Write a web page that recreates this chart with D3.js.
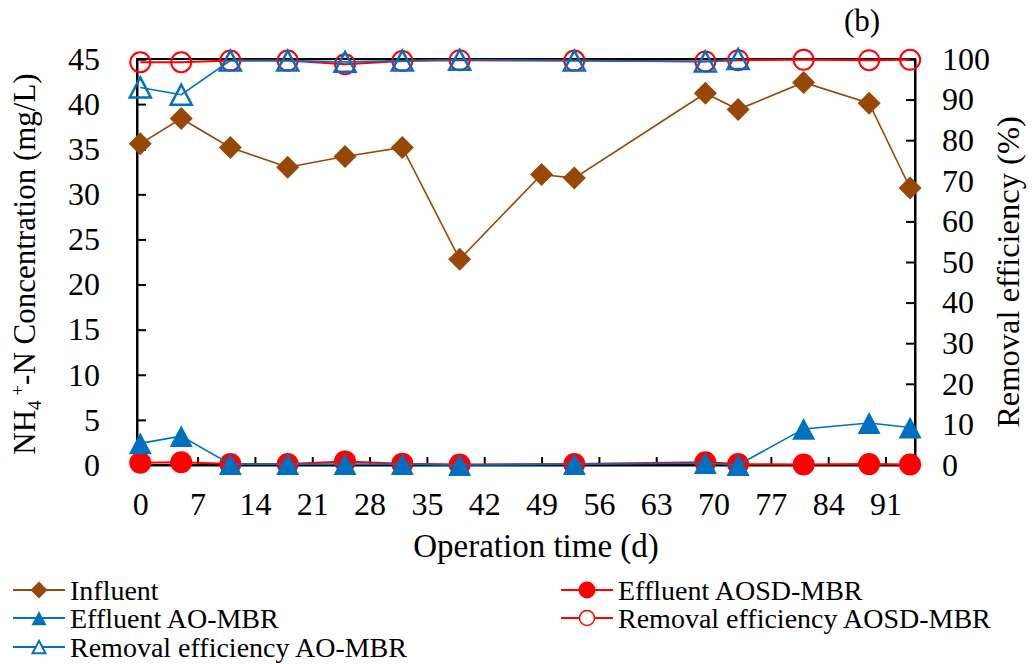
<!DOCTYPE html>
<html><head><meta charset="utf-8">
<script src="https://cdn.jsdelivr.net/npm/d3@7"></script>
<style>body{margin:0;background:#fff}svg{display:block}</style>
</head><body><svg id="c" width="1033" height="664"></svg>
<script>
const daysInfluent = [0,5,11,18,25,32,39,49,53,69,73,81,89,94];
const influent = [35.6,38.4,35.2,33.0,34.2,35.2,22.8,32.2,31.8,41.2,39.4,42.4,40.1,30.7];
const daysEffluent = [0,5,11,18,25,32,39,53,69,73,81,89,94];
const effluentAOSD = [0.25,0.3,0.1,0.1,0.4,0.15,0.05,0.1,0.3,0.1,0.05,0.1,0.05];
const effluentAO = [2.4,3.2,0.1,0.1,0.1,0.1,0.0,0.1,0.2,0.0,4.0,4.65,4.15];
const daysRemovalAOSD = [0,5,11,18,25,32,39,53,69,73,81,89,94];
const removalAOSD = [99.2,99.2,99.6,99.6,98.7,99.5,99.7,99.6,99.4,99.7,99.8,99.7,99.8];
const daysRemovalAO = [0,5,11,18,25,32,39,53,69,73];
const removalAO = [93.0,91.2,99.6,99.6,99.3,99.6,99.8,99.6,99.4,100];
const xTicks = [0,7,14,21,28,35,42,49,56,63,70,77,84,91];
const yLeftTicks = [0,5,10,15,20,25,30,35,40,45];
const yRightTicks = [0,10,20,30,40,50,60,70,80,90,100];

const FONT = "Liberation Serif";
const svg = d3.select("#c").style("font-family",FONT);
const L=137,R=915,T=59,B=465;
const x = d3.scaleLinear().domain([-0.4,94.6]).range([L,R]);
const yL = d3.scaleLinear().domain([0,45]).range([B,T]);
const yR = d3.scaleLinear().domain([0,100]).range([B,T]);

const BROWN="#974806", BLUE="#0070C0", RED="#FF0000";

svg.append("rect").attr("x",L).attr("y",T).attr("width",R-L).attr("height",B-T)
  .attr("fill","none").attr("stroke","#000").attr("stroke-width",2);

const ax = svg.append("g").attr("transform",`translate(0,${B})`)
  .call(d3.axisBottom(x).tickValues(xTicks).tickSize(-8).tickPadding(27));
const ayl = svg.append("g").attr("transform",`translate(${L},0)`)
  .call(d3.axisLeft(yL).tickValues(yLeftTicks).tickSize(-9).tickPadding(37));
const ayr = svg.append("g").attr("transform",`translate(${R},0)`)
  .call(d3.axisRight(yR).tickValues(yRightTicks).tickSize(-9).tickPadding(27));
[ax,ayl,ayr].forEach(g=>{
  g.select(".domain").attr("stroke","#000").attr("stroke-width",2);
  g.selectAll(".tick line").attr("stroke","#000").attr("stroke-width",2);
  g.selectAll(".tick text").attr("fill","#000").style("font-family",FONT).style("font-size","32px");
});
ax.selectAll(".tick text").attr("dy","0.71em");

function lineOf(xs,ys,sc){return d3.line().x((d,i)=>x(xs[i])).y((d,i)=>sc(ys[i]))(ys);}
function diamond(g,cx,cy,s,col){g.append("path").attr("d",`M${cx},${cy-s}L${cx+s},${cy}L${cx},${cy+s}L${cx-s},${cy}Z`).attr("fill",col);}
function tri(g,cx,cy,s,fill,stroke,sw){const h=s*0.95;g.append("path").attr("d",`M${cx},${cy-h}L${cx+s},${cy+h}L${cx-s},${cy+h}Z`).attr("fill",fill).attr("stroke",stroke).attr("stroke-width",sw);}
function circ(g,cx,cy,r,fill,stroke,sw){g.append("circle").attr("cx",cx).attr("cy",cy).attr("r",r).attr("fill",fill).attr("stroke",stroke).attr("stroke-width",sw);}

const gi = svg.append("g");
gi.append("path").attr("d",lineOf(daysInfluent,influent,yL)).attr("fill","none").attr("stroke",BROWN).attr("stroke-width",1.6);
influent.forEach((v,i)=>diamond(gi,x(daysInfluent[i]),yL(v),11.5,BROWN));

const ge = svg.append("g");
ge.append("path").attr("d",lineOf(daysEffluent,effluentAOSD,yL)).attr("fill","none").attr("stroke",RED).attr("stroke-width",2);
effluentAOSD.forEach((v,i)=>circ(ge,x(daysEffluent[i]),yL(v),11,RED,"none",0));

const ga = svg.append("g");
ga.append("path").attr("d",lineOf(daysEffluent,effluentAO,yL)).attr("fill","none").attr("stroke",BLUE).attr("stroke-width",1.6);
effluentAO.forEach((v,i)=>tri(ga,x(daysEffluent[i]),yL(v),11.5,BLUE,"none",0));

const gr = svg.append("g");
gr.append("path").attr("d",lineOf(daysRemovalAOSD,removalAOSD,yR)).attr("fill","none").attr("stroke",RED).attr("stroke-width",2);
removalAOSD.forEach((v,i)=>circ(gr,x(daysRemovalAOSD[i]),yR(v),10,"none",RED,2));

const gb = svg.append("g");
gb.append("path").attr("d",lineOf(daysRemovalAO,removalAO,yR)).attr("fill","none").attr("stroke",BLUE).attr("stroke-width",1.6);
removalAO.forEach((v,i)=>tri(gb,x(daysRemovalAO[i]),yR(v),10.5,"none",BLUE,2.5));

function txt(){return svg.append("text").attr("fill","#000").style("font-family",FONT);}
txt().attr("x",536).attr("y",557).attr("text-anchor","middle").style("font-size","33px").text("Operation time (d)");
const lt = txt().attr("transform","translate(35,264) rotate(-90)").attr("text-anchor","middle").style("font-size","31px");
lt.append("tspan").text("NH");
lt.append("tspan").attr("dy",6).style("font-size","19px").text("4");
lt.append("tspan").attr("dy",-17).style("font-size","19px").text("  +");
lt.append("tspan").attr("dy",11).text("-N Concentration (mg/L)");
txt().attr("transform","translate(1019,272) rotate(-90)").attr("text-anchor","middle").style("font-size","32.5px").text("Removal efficiency (%)");
txt().attr("x",862).attr("y",31).attr("text-anchor","middle").style("font-size","31px").text("(b)");

const legend = [
  {name:"Influent",col:BROWN,m:"d",x:13,y:590},
  {name:"Effluent AO-MBR",col:BLUE,m:"tf",x:13,y:618},
  {name:"Removal efficiency AO-MBR",col:BLUE,m:"to",x:13,y:647},
  {name:"Effluent AOSD-MBR",col:RED,m:"cf",x:561,y:590},
  {name:"Removal efficiency AOSD-MBR",col:RED,m:"co",x:561,y:618}
];
const lg = svg.append("g");
legend.forEach(d=>{
  lg.append("line").attr("x1",d.x).attr("x2",d.x+52).attr("y1",d.y).attr("y2",d.y).attr("stroke",d.col).attr("stroke-width",2);
  const cx=d.x+26;
  if(d.m==="d") diamond(lg,cx,d.y,8.5,BROWN);
  if(d.m==="tf") tri(lg,cx,d.y,7.5,BLUE,"none",0);
  if(d.m==="to") tri(lg,cx,d.y,6.5,"#fff",BLUE,2);
  if(d.m==="cf") circ(lg,cx,d.y,8.5,RED,"none",0);
  if(d.m==="co") circ(lg,cx,d.y,7.5,"#fff",RED,1.5);
  txt().attr("x",d.x+57).attr("y",d.y).attr("dy","0.35em").style("font-size","28px").text(d.name);
});
</script></body></html>
